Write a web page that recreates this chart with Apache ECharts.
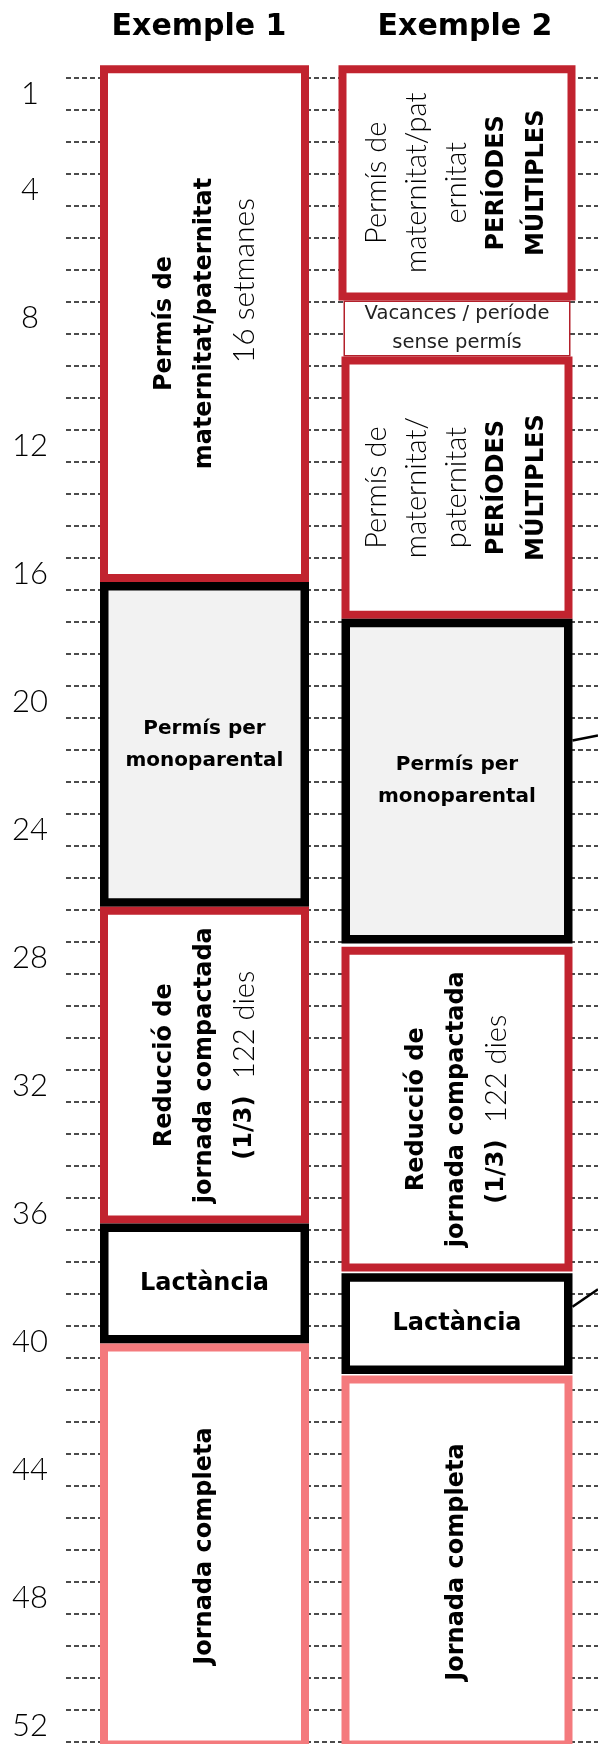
<!DOCTYPE html>
<html>
<head>
<meta charset="utf-8">
<script src="https://cdn.jsdelivr.net/npm/echarts@6/dist/echarts.min.js"></script>
<style>
html, body { margin: 0; padding: 0; background: #fff; }
#chart { width: 598px; height: 1744px; }
</style>
</head>
<body>
<div id="chart"></div>
<script>
// columnes i setmanes
const columns = ['Exemple 1', 'Exemple 2'];
const weekTicks = [1, 4, 8, 12, 16, 20, 24, 28, 32, 36, 40, 44, 48, 52];

// Exemple 1: blocs (setmana inici / setmana final)
const ex1Kinds = ['leave', 'single', 'reduction', 'lactation', 'full'];
const ex1Start = [-0.4, 15.75, 25.9, 35.8, 39.55];
const ex1End = [15.75, 25.9, 35.8, 39.55, 52.2];
const ex1Text = [
    '{b|Permís de}\n{b|maternitat/paternitat}\n{w|16 setmanes}',
    '{s|Permís per}\n{s|monoparental}',
    '{b|Reducció de}\n{b|jornada compactada}\n{b|(1/3)  }{l|122 dies}',
    '{m|Lactància}',
    '{b|Jornada completa}'
];

// Exemple 2
const ex2Kinds = ['leave', 'holiday', 'leave', 'single', 'reduction', 'lactation', 'full'];
const ex2Start = [-0.4, 6.95, 8.7, 16.9, 27.15, 37.35, 40.55];
const ex2End = [6.95, 8.7, 16.9, 27.05, 37.3, 40.5, 52.2];
const ex2Text = [
    '{l|Permís de}\n{l|maternitat/pat}\n{l|ernitat}\n{b|PERÍODES}\n{b|MÚLTIPLES}',
    '{v|Vacances / període}\n{v|sense permís}',
    '{l|Permís de}\n{l|maternitat/}\n{l|paternitat}\n{b|PERÍODES}\n{b|MÚLTIPLES}',
    '{s|Permís per}\n{s|monoparental}',
    '{b|Reducció de}\n{b|jornada compactada}\n{b|(1/3)  }{l|122 dies}',
    '{m|Lactància}',
    '{b|Jornada completa}'
];

// línies que surten de l'exemple 2 cap a la dreta
const linkFrom = [20.7, 38.4];
const linkTo = [20.55, 37.85];

// estils (px)
const boldFont = 'DejaVu Sans';
const lightFont = 'Lato';
const colShift = [5.5, -8];
const colWidth = [209, 231];
const ex2Pad = [3, -2, 0, 0, 0, 0, 0];
const kindStyle = {
    leave: {stroke: '#c1232f', lw: 8, fill: '#fff', vertical: true},
    holiday: {stroke: '#b3202b', lw: 1.5, fill: '#fff', vertical: false},
    single: {stroke: '#000', lw: 8.5, fill: '#f2f2f2', vertical: false},
    reduction: {stroke: '#c1232f', lw: 8, fill: '#fff', vertical: true},
    lactation: {stroke: '#000', lw: 8.5, fill: '#fff', vertical: false},
    full: {stroke: '#f47a7d', lw: 8, fill: '#fff', vertical: true}
};
const rich = {
    b: {fontFamily: boldFont, fontWeight: 'bold', fontSize: 24, lineHeight: 40, fill: '#000'},
    l: {fontFamily: lightFont, fontWeight: 300, fontSize: 29, lineHeight: 40, fill: '#000'},
    w: {fontFamily: lightFont, fontWeight: 300, fontSize: 30, lineHeight: 40, fill: '#000', padding: [0, 0, 0, 86]},
    s: {fontFamily: boldFont, fontWeight: 'bold', fontSize: 20, lineHeight: 32, fill: '#000'},
    m: {fontFamily: boldFont, fontWeight: 'bold', fontSize: 24, lineHeight: 32, fill: '#000'},
    v: {fontFamily: boldFont, fontWeight: 'normal', fontSize: 19.5, lineHeight: 29, fill: '#222'}
};

const boxes = [];
ex1Kinds.forEach((k, i) => boxes.push({col: 0, kind: k, start: ex1Start[i], end: ex1End[i], text: ex1Text[i], pad: 0}));
ex2Kinds.forEach((k, i) => boxes.push({col: 1, kind: k, start: ex2Start[i], end: ex2End[i], text: ex2Text[i], pad: ex2Pad[i]}));

function renderBox(params, api) {
    const b = boxes[params.dataIndex];
    const st = kindStyle[b.kind];
    const p0 = api.coord([b.col, b.start]);
    const p1 = api.coord([b.col, b.end]);
    const cx = p0[0] + colShift[b.col];
    const w = colWidth[b.col] + 2 * b.pad;
    const x = cx - w / 2, y = p0[1], h = p1[1] - p0[1];
    const hl = st.lw / 2;
    return {
        type: 'group',
        children: [
            {
                type: 'rect',
                shape: {x: x + hl, y: y + hl, width: w - st.lw, height: h - st.lw},
                style: {fill: st.fill, stroke: st.stroke, lineWidth: st.lw}
            },
            {
                type: 'text',
                x: cx,
                y: y + h / 2,
                rotation: st.vertical ? Math.PI / 2 : 0,
                style: {text: b.text, rich: rich, align: 'center', verticalAlign: 'middle', fontFamily: boldFont}
            }
        ]
    };
}

function renderLink(params, api) {
    const p0 = api.coord([1, linkFrom[params.dataIndex]]);
    const p1 = api.coord([1, linkTo[params.dataIndex]]);
    const x0 = p0[0] + colShift[1] + colWidth[1] / 2;
    return {
        type: 'line',
        shape: {x1: x0, y1: p0[1], x2: api.getWidth(), y2: p1[1]},
        style: {stroke: '#000', lineWidth: 2.5}
    };
}

const chart = echarts.init(document.getElementById('chart'));
chart.setOption({
    animation: false,
    grid: {left: 66, right: 0, top: 78, bottom: 2, containLabel: false, outerBoundsMode: 'none'},
    xAxis: {
        type: 'category',
        position: 'top',
        data: columns,
        axisLine: {show: false},
        axisTick: {show: false},
        splitLine: {show: false},
        axisLabel: {fontFamily: boldFont, fontSize: 30, fontWeight: 'bold', color: '#000', margin: 36}
    },
    yAxis: {
        type: 'value',
        inverse: true,
        min: 0,
        max: 52,
        interval: 1,
        axisLine: {show: false},
        axisTick: {show: false},
        splitLine: {show: true, lineStyle: {type: [5, 3], color: '#111', width: 1.5}},
        axisLabel: {
            customValues: weekTicks.map(w => w - 0.5),
            formatter: v => String(Math.round(v + 0.5)),
            fontFamily: lightFont,
            fontSize: 31,
            fontWeight: 300,
            color: '#000',
            align: 'center',
            margin: 36
        }
    },
    series: [
        {
            type: 'custom',
            renderItem: renderBox,
            encode: {x: 0, y: [1, 2]},
            data: boxes.map(b => [b.col, b.start, b.end])
        },
        {
            type: 'custom',
            renderItem: renderLink,
            encode: {x: 0, y: [1, 2]},
            data: linkFrom.map((v, i) => [1, v, linkTo[i]])
        }
    ]
});
</script>
</body>
</html>
